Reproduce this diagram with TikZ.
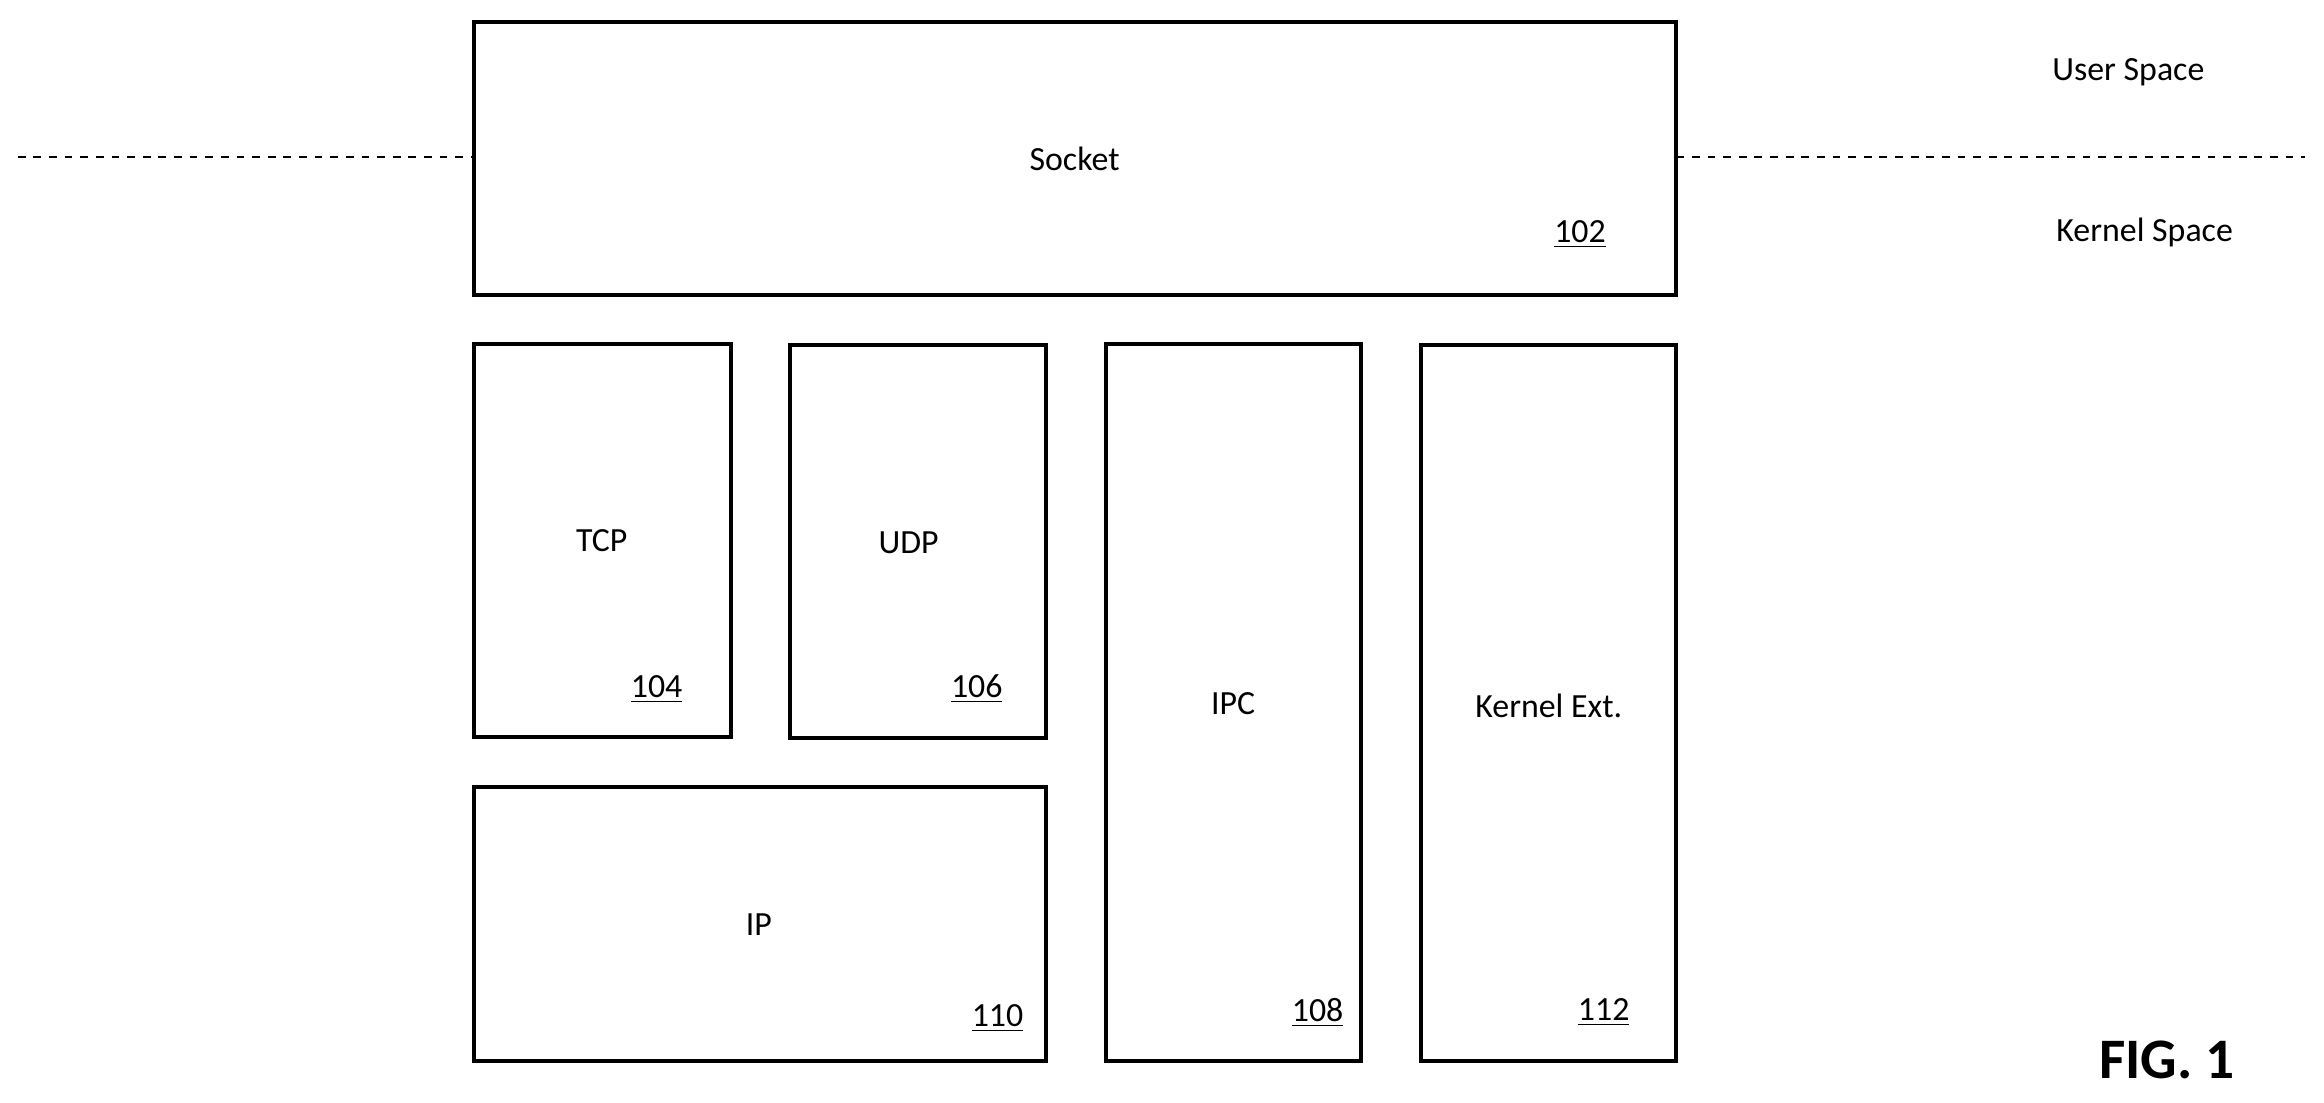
\documentclass[tikz,border=0pt]{standalone}
\usepackage{fontspec}
\setmainfont{Carlito}
\begin{document}
\begin{tikzpicture}[x=0.02cm,y=-0.02cm,
  box/.style={draw,line width=1.6pt},
  lbl/.style={font=\fontsize{13pt}{15pt}\selectfont},
  num/.style={font=\fontsize{13pt}{15pt}\selectfont}]
\useasboundingbox (0,0) rectangle (1568,744);
\draw[box] (320,15) rectangle (1131,199) coordinate (sk);
\draw[box] (320,232) rectangle (493,497);
\draw[box] (533,233) rectangle (706,498);
\draw[box] (746,232) rectangle (918,716);
\draw[box] (959,233) rectangle (1131,716);
\draw[box] (320,531) rectangle (706,716);
\coordinate (l1) at (12,106); \coordinate (l2) at (320,106);
\coordinate (r1) at (1131,106); \coordinate (r2) at (1555,106);
\draw[dashed,line width=0.8pt] (l1) -- (l2);
\draw[dashed,line width=0.8pt] (r1) -- (r2);
\node[lbl] (socket) at (725,107) {Socket};
\node[num] (n102) at (1066,158) {\underline{102}};
\node[lbl] (tcp) at (406,365) {TCP};
\node[num] (n104) at (443,465) {\underline{104}};
\node[lbl] (udp) at (613,366) {UDP};
\node[num] (n106) at (659,465) {\underline{106}};
\node[lbl] (ipc) at (832,475) {IPC};
\node[num] (n108) at (889,683) {\underline{108}};
\node[lbl] (ke) at (1045,476) {Kernel Ext.};
\node[num] (n112) at (1082,683) {\underline{112}};
\node[lbl] (ip) at (512,624) {IP};
\node[num] (n110) at (673,687) {\underline{110}};
\node[lbl] (us) at (1436,49) {User Space};
\node[lbl] (ks) at (1447,157) {Kernel Space};
\node[font=\fontsize{22pt}{26pt}\selectfont\bfseries] (fig) at (1462,715) {FIG. 1};
\end{tikzpicture}
\end{document}
